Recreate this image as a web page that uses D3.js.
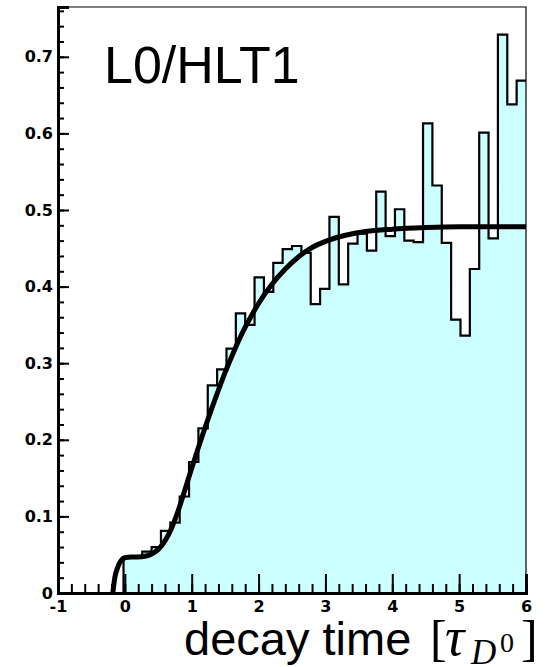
<!DOCTYPE html>
<html>
<head>
<meta charset="utf-8">
<script src="https://cdn.jsdelivr.net/npm/d3@7"></script>
<style>
  html, body { margin: 0; padding: 0; background: #fff; }
  svg { display: block; }
</style>
</head>
<body>
<svg id="chart" width="551" height="667"></svg>
<script>
// Histogram binning: 50 bins across the decay-time axis [-1, 6]
const binRange = [-1, 6];
const binCount = 50;

// Efficiency per bin (L0/HLT1 trigger)
const binValues = [
  0, 0, 0, 0, 0, 0, 0,
  0.047, 0.047, 0.054, 0.060, 0.081, 0.092, 0.126, 0.171, 0.215, 0.271,
  0.292, 0.319, 0.365, 0.350, 0.412, 0.393, 0.431, 0.449, 0.453, 0.444,
  0.377, 0.397, 0.491, 0.403, 0.456, 0.469, 0.447, 0.524, 0.466, 0.501,
  0.460, 0.458, 0.613, 0.532, 0.457, 0.357, 0.336, 0.423, 0.601, 0.463,
  0.729, 0.638, 0.669
];

// Fitted acceptance curve (decay time, efficiency)
const fitX = [-0.18, -0.15, -0.1, -0.05, 0, 0.1, 0.2, 0.3, 0.4, 0.5, 0.6, 0.7, 0.8, 0.9,
  1.0, 1.1, 1.2, 1.3, 1.4, 1.5, 1.6, 1.7, 1.8, 1.9, 2.0, 2.2, 2.4, 2.6, 2.8, 3.0,
  3.3, 3.6, 4.0, 4.5, 5.0, 6.0];
const fitY = [0, 0.02, 0.035, 0.043, 0.046, 0.047, 0.047, 0.048, 0.051, 0.057, 0.068, 0.085,
  0.108, 0.135, 0.163, 0.190, 0.216, 0.241, 0.265, 0.288, 0.309, 0.329, 0.347, 0.363,
  0.378, 0.403, 0.423, 0.439, 0.451, 0.459, 0.467, 0.472, 0.475, 0.477, 0.478, 0.478];

const xMajorTicks = [-1, 0, 1, 2, 3, 4, 5, 6];
const yMajorTicks = [0, 0.1, 0.2, 0.3, 0.4, 0.5, 0.6, 0.7];
const yMax = 0.765;

const svg = d3.select("#chart");
const plotLeft = 58, plotRight = 526, plotTop = 7, plotBottom = 593;

const x = d3.scaleLinear().domain(binRange).range([plotLeft, plotRight]);
const y = d3.scaleLinear().domain([0, yMax]).range([plotBottom, plotTop]);

const binWidth = (binRange[1] - binRange[0]) / binCount;
const binPts = binValues.map((v, i) => [binRange[0] + i * binWidth, v]);
binPts.push([binRange[1], binValues[binValues.length - 1]]);

// filled histogram
svg.append("path")
  .attr("d", d3.area().x(d => x(d[0])).y0(y(0)).y1(d => y(d[1])).curve(d3.curveStepAfter)(binPts))
  .attr("fill", "#ccffff");

// histogram outline
svg.append("path")
  .attr("d", d3.line().x(d => x(d[0])).y(d => y(d[1])).curve(d3.curveStepAfter)(binPts))
  .attr("fill", "none")
  .attr("stroke", "#000")
  .attr("stroke-width", 2.2);

// fit curve
const fitPts = fitX.map((v, i) => [v, fitY[i]]);
svg.append("path")
  .attr("d", d3.line().x(d => x(d[0])).y(d => y(d[1])).curve(d3.curveMonotoneX)(fitPts))
  .attr("fill", "none")
  .attr("stroke", "#000")
  .attr("stroke-width", 5)
  .attr("stroke-linejoin", "round");

// frame (top and right)
svg.append("path")
  .attr("d", `M${plotLeft},${plotTop}H${plotRight}V${plotBottom}`)
  .attr("fill", "none")
  .attr("stroke", "#000")
  .attr("stroke-width", 1.2);

const tickFont = "'DejaVu Sans', sans-serif";

// y axis
const yMinor = d3.range(0, yMax + 1e-9, 0.02);
const yAxisMinor = svg.append("g").attr("transform", `translate(${plotLeft},0)`)
  .call(d3.axisLeft(y).tickValues(yMinor).tickSize(-6).tickFormat(""));
const yAxis = svg.append("g").attr("transform", `translate(${plotLeft},0)`)
  .call(d3.axisLeft(y).tickValues(yMajorTicks).tickSize(-11).tickPadding(5)
    .tickFormat(d => d === 0 ? "0" : d3.format(".1f")(d)));

// x axis
const xMinor = d3.range(-1, 6 + 1e-9, 0.2);
const xAxisMinor = svg.append("g").attr("transform", `translate(0,${plotBottom})`)
  .call(d3.axisBottom(x).tickValues(xMinor).tickSize(-9).tickFormat(""));
const xAxis = svg.append("g").attr("transform", `translate(0,${plotBottom})`)
  .call(d3.axisBottom(x).tickValues(xMajorTicks).tickSize(-19).tickPadding(8).tickFormat(d3.format("d")));

[yAxisMinor, yAxis, xAxisMinor, xAxis].forEach(g => {
  g.selectAll(".domain").attr("stroke-width", 2.8).attr("stroke", "#000");
  g.selectAll(".tick line").attr("stroke-width", 2).attr("stroke", "#000");
  g.selectAll("text").attr("font-family", tickFont).attr("font-weight", "bold")
    .attr("font-size", 16).attr("fill", "#000");
});
xAxis.selectAll("text").text(d => d < 0 ? "-" + Math.abs(d) : d);

// title label
svg.append("text")
  .attr("x", 104).attr("y", 83)
  .attr("font-family", "'Liberation Sans', Arial, sans-serif")
  .attr("font-size", 52)
  .text("L0/HLT1");

// x axis title
const serif = "'Liberation Serif', 'DejaVu Serif', serif";
const xt = svg.append("text")
  .attr("y", 655)
  .attr("font-family", "'Liberation Sans', Arial, sans-serif")
  .attr("font-size", 47)
  .attr("fill", "#000");
xt.append("tspan").attr("x", 184).text("decay time");
xt.append("tspan").attr("x", 430).attr("font-family", serif).attr("font-size", 50).text("[");
xt.append("tspan").attr("x", 445).attr("font-family", serif).attr("font-style", "italic")
  .attr("font-size", 54).text("τ");
xt.append("tspan").attr("x", 471).attr("y", 664).attr("font-family", serif).attr("font-style", "italic")
  .attr("font-size", 35).text("D");
xt.append("tspan").attr("x", 500).attr("y", 652).attr("font-family", serif)
  .attr("font-size", 28).text("0");
xt.append("tspan").attr("x", 521).attr("y", 655).attr("font-family", serif).attr("font-size", 50).text("]");
</script>
</body>
</html>
